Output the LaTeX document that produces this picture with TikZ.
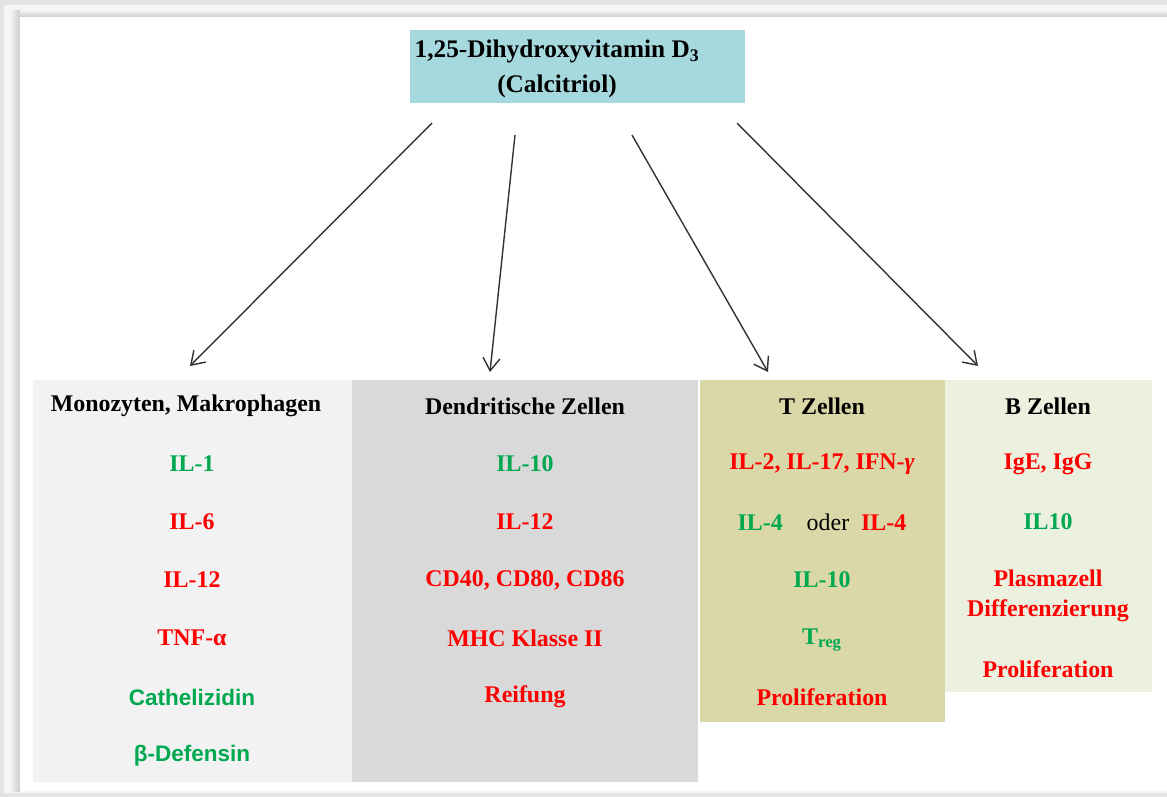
\documentclass[tikz,border=0pt]{standalone}
\usepackage{fontspec}
\setmainfont{Liberation Serif}
\setsansfont{Liberation Sans}
\usetikzlibrary{arrows.meta}
\definecolor{rahmen}{HTML}{E3E3E3}
\definecolor{kalzi}{HTML}{A6D9DE}
\definecolor{mono}{HTML}{F2F2F2}
\definecolor{dendr}{HTML}{D9D9D9}
\definecolor{tzell}{HTML}{DAD7A8}
\definecolor{bzell}{HTML}{EBF1DE}
\definecolor{hoch}{HTML}{FF0000}
\definecolor{runter}{HTML}{00A84F}
\tikzset{
    feld/.style={anchor=north west, inner sep=0pt, draw=none},
    txt/.style={font=\fontsize{17}{21}\selectfont\bfseries, align=center, inner sep=0pt},
    kopf/.style={txt, text=black},
    rot/.style={txt, text=hoch},
    gruen/.style={txt, text=runter},
    pfeil/.style={draw=black!80, line width=1pt, -{Straight Barb[length=9pt,width=12pt]}}
}

\begin{document}
\begin{tikzpicture}[x=0.025cm, y=-0.025cm]
    \useasboundingbox (0,0) rectangle (1167,797);
    % rahmen
    \fill[rahmen] (0,0) rectangle (1167,797);
    \fill[white!96!black] (4,5) rectangle (1167,793);
    \shade[left color=white!96!black, right color=black!20] (10,10) rectangle (20,791);
    \shade[top color=white!96!black, bottom color=black!20] (20,10) rectangle (1167,17);
    \fill[white] (20,17) rectangle (1167,791);
    % kalzitriol
    \node[feld, fill=kalzi, minimum width=335*0.025cm, minimum height=73*0.025cm] (calc) at (410,30) {};
    \node[kopf, font=\fontsize{18}{25}\selectfont\bfseries] (calctxt) at (557,69) {1,25-Dihydroxyvitamin D\textsubscript{3}\\(Calcitriol)};
    % spalten
    \node[feld, fill=mono, minimum width=319*0.025cm, minimum height=402*0.025cm] (mo) at (33,380) {};
    \node[feld, fill=dendr, minimum width=346*0.025cm, minimum height=402*0.025cm] (dc) at (352,380) {};
    \node[feld, fill=tzell, minimum width=245*0.025cm, minimum height=342*0.025cm] (tz) at (700,380) {};
    \node[feld, fill=bzell, minimum width=207*0.025cm, minimum height=312*0.025cm] (bz) at (945,380) {};
    % pfeile
    \coordinate (s1) at (432,123);
    \coordinate (s2) at (515,135);
    \coordinate (s3) at (632,135);
    \coordinate (s4) at (737,123);
    \coordinate (e1) at (190,366);
    \coordinate (e2) at (490,372);
    \coordinate (e3) at (768,372);
    \coordinate (e4) at (978,366);
    \foreach \i in {1,...,4}
        \draw[pfeil] (s\i) -- (e\i);
    % monozyten
    \node[kopf] (mokopf) at (186,406) {Monozyten, Makrophagen};
    \node[gruen] (mo1) at (192,464) {IL-1};
    \node[rot] (mo2) at (192,522) {IL-6};
    \node[rot] (mo3) at (192,580) {IL-12};
    \node[rot] (mo4) at (192,638) {TNF-α};
    \node[gruen, font=\fontsize{16}{20}\selectfont\sffamily\bfseries] (mo5) at (192,697) {Cathelizidin};
    \node[gruen, font=\fontsize{16}{20}\selectfont\sffamily\bfseries] (mo6) at (192,756) {β-Defensin};
    % dendritische zellen
    \node[kopf] (dckopf) at (525,406) {Dendritische Zellen};
    \node[gruen] (dc1) at (525,464) {IL-10};
    \node[rot] (dc2) at (525,522) {IL-12};
    \node[rot] (dc3) at (525,580) {CD40, CD80, CD86};
    \node[rot] (dc4) at (525,638) {MHC Klasse II};
    \node[rot] (dc5) at (525,697) {Reifung};
    % t zellen
    \node[kopf] (tzkopf) at (822,406) {T Zellen};
    \node[rot] (tz1) at (822,464) {IL-2, IL-17, IFN-\textit{γ}};
    \node[txt] (tz2) at (822,522) {\textcolor{runter}{IL-4}\quad{\mdseries oder}\enspace\textcolor{hoch}{IL-4}};
    \node[gruen] (tz3) at (822,580) {IL-10};
    \node[gruen] (tz4) at (822,640) {T\textsubscript{reg}};
    \node[rot] (tz5) at (822,697) {Proliferation};
    % b zellen
    \node[kopf] (bzkopf) at (1048,406) {B Zellen};
    \node[rot] (bz1) at (1048,464) {IgE, IgG};
    \node[gruen] (bz2) at (1048,522) {IL10};
    \node[rot] (bz3) at (1048,596) {Plasmazell\\Differenzierung};
    \node[rot] (bz4) at (1048,669) {Proliferation};
\end{tikzpicture}
\end{document}
